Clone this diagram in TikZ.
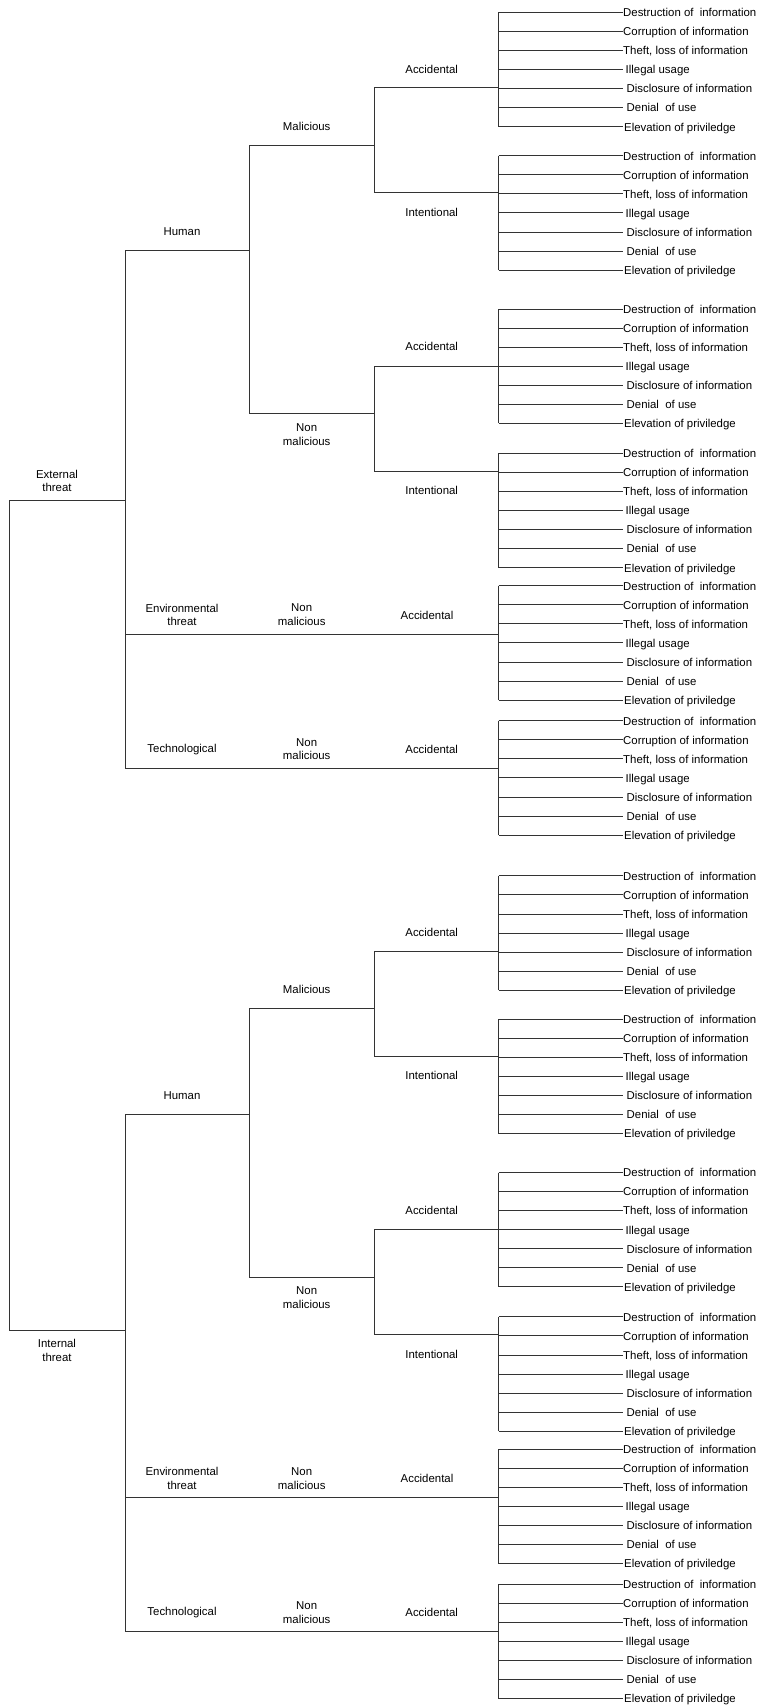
\documentclass[tikz,border=0pt]{standalone}
\usepackage{fontspec}
\setmainfont{Liberation Sans}
\usetikzlibrary{positioning}

\tikzset{
  branch/.style={draw=black!80,line width=0.9pt},
  lbl/.style={font=\fontsize{11.4}{13.7}\selectfont,align=center,inner sep=0pt},
  leaf/.style={font=\fontsize{11.4}{13.7}\selectfont,anchor=west,inner sep=0pt,
    text height=8.6pt,text depth=0pt},
}

\begin{document}
\begin{tikzpicture}[x=1pt,y=-1pt]

  \useasboundingbox (0,0) rectangle (760,1705);

  % Columns
  \def\xr{9.5}
  \def\xa{125}
  \def\xb{249.3}
  \def\xc{374}
  \def\xd{498.5}
  \def\xe{623}
  % Leaf spacing
  \def\dl{19.07}

  % Root
  \coordinate (ext-root) at (\xr,500);
  \coordinate (ext-top) at (\xa,500);
  \coordinate (int-root) at (\xr,1330);
  \coordinate (int-top) at (\xa,1330);
  \draw[branch] (ext-top) -- (ext-root) -- (int-root) -- (int-top);
  \node[lbl] (ext-lbl) at (57,481) {External\\threat};
  \node[lbl] (int-lbl) at (57,1350.5) {Internal\\threat};

  \foreach \h/\dy in {ext/0,int/863.5}{

    % Human / malicious / non malicious
    \coordinate (\h-hum) at (\xa,250.7+\dy);
    \coordinate (\h-mal) at (\xb,145+\dy);
    \coordinate (\h-non) at (\xb,413.7+\dy);

    % Leaf groups: name / first leaf / joint / parent column
    \foreach \grp/\ytop/\yj/\px in {ma/12.3/87.7/\xc, mi/155.7/192.7/\xc,
        na/309/366/\xc, ni/453.3/471/\xc, ea/585.7/634/\xa, ta/720.7/768/\xa}{
      \coordinate (\h-\grp) at (\px,\yj+\dy);
      \coordinate (\h-\grp-j) at (\xd,\yj+\dy);
      \draw[branch] (\h-\grp) -- (\h-\grp-j);
      \foreach \k/\sh/\txt in {0/0/{Destruction of\ \ information},
          1/0/{Corruption of information}, 2/0/{Theft, loss of information},
          3/2.5/{Illegal usage}, 4/3.5/{Disclosure of information},
          5/3.5/{Denial\ \ of use}, 6/1/{Elevation of priviledge}}{
        \coordinate (\h-\grp-b\k) at (\xd,\ytop+\dy+\k*\dl);
        \node[leaf,inner xsep=\sh pt] (\h-\grp-\k) at (\xe,\ytop+\dy+\k*\dl) {\txt};
        \draw[branch] (\h-\grp-b\k) -- (\h-\grp-\k.west);
      }
      \draw[branch] (\h-\grp-b0) -- (\h-\grp-b6);
    }

    \draw[branch] (\h-hum) -- (\h-ta);
    \draw[branch] (\h-hum) -- (\h-mal |- \h-hum);
    \draw[branch] (\h-mal) -- (\h-non);
    \draw[branch] (\h-mal) -- (\h-ma |- \h-mal);
    \draw[branch] (\h-non) -- (\h-na |- \h-non);
    \draw[branch] (\h-ma) -- (\h-mi);
    \draw[branch] (\h-na) -- (\h-ni);

    % Labels
    \foreach \nm/\lx/\ly/\txt in {hum/182/231.7/Human, mal/306.7/126/Malicious,
        non/306.7/434.3/Non\\malicious, ma/431.7/69/Accidental,
        mi/431.7/212.3/Intentional, na/431.7/346.7/Accidental,
        ni/431.7/490.7/Intentional, env/182/614.8/Environmental\\threat,
        en/301.7/614.8/Non\\malicious, ea/427/615/Accidental,
        tec/182/749.3/Technological, tn/306.7/749.2/Non\\malicious,
        ta/431.7/749/Accidental}
      \node[lbl] (\h-\nm-lbl) at (\lx,\ly+\dy) {\txt};
  }

\end{tikzpicture}
\end{document}
